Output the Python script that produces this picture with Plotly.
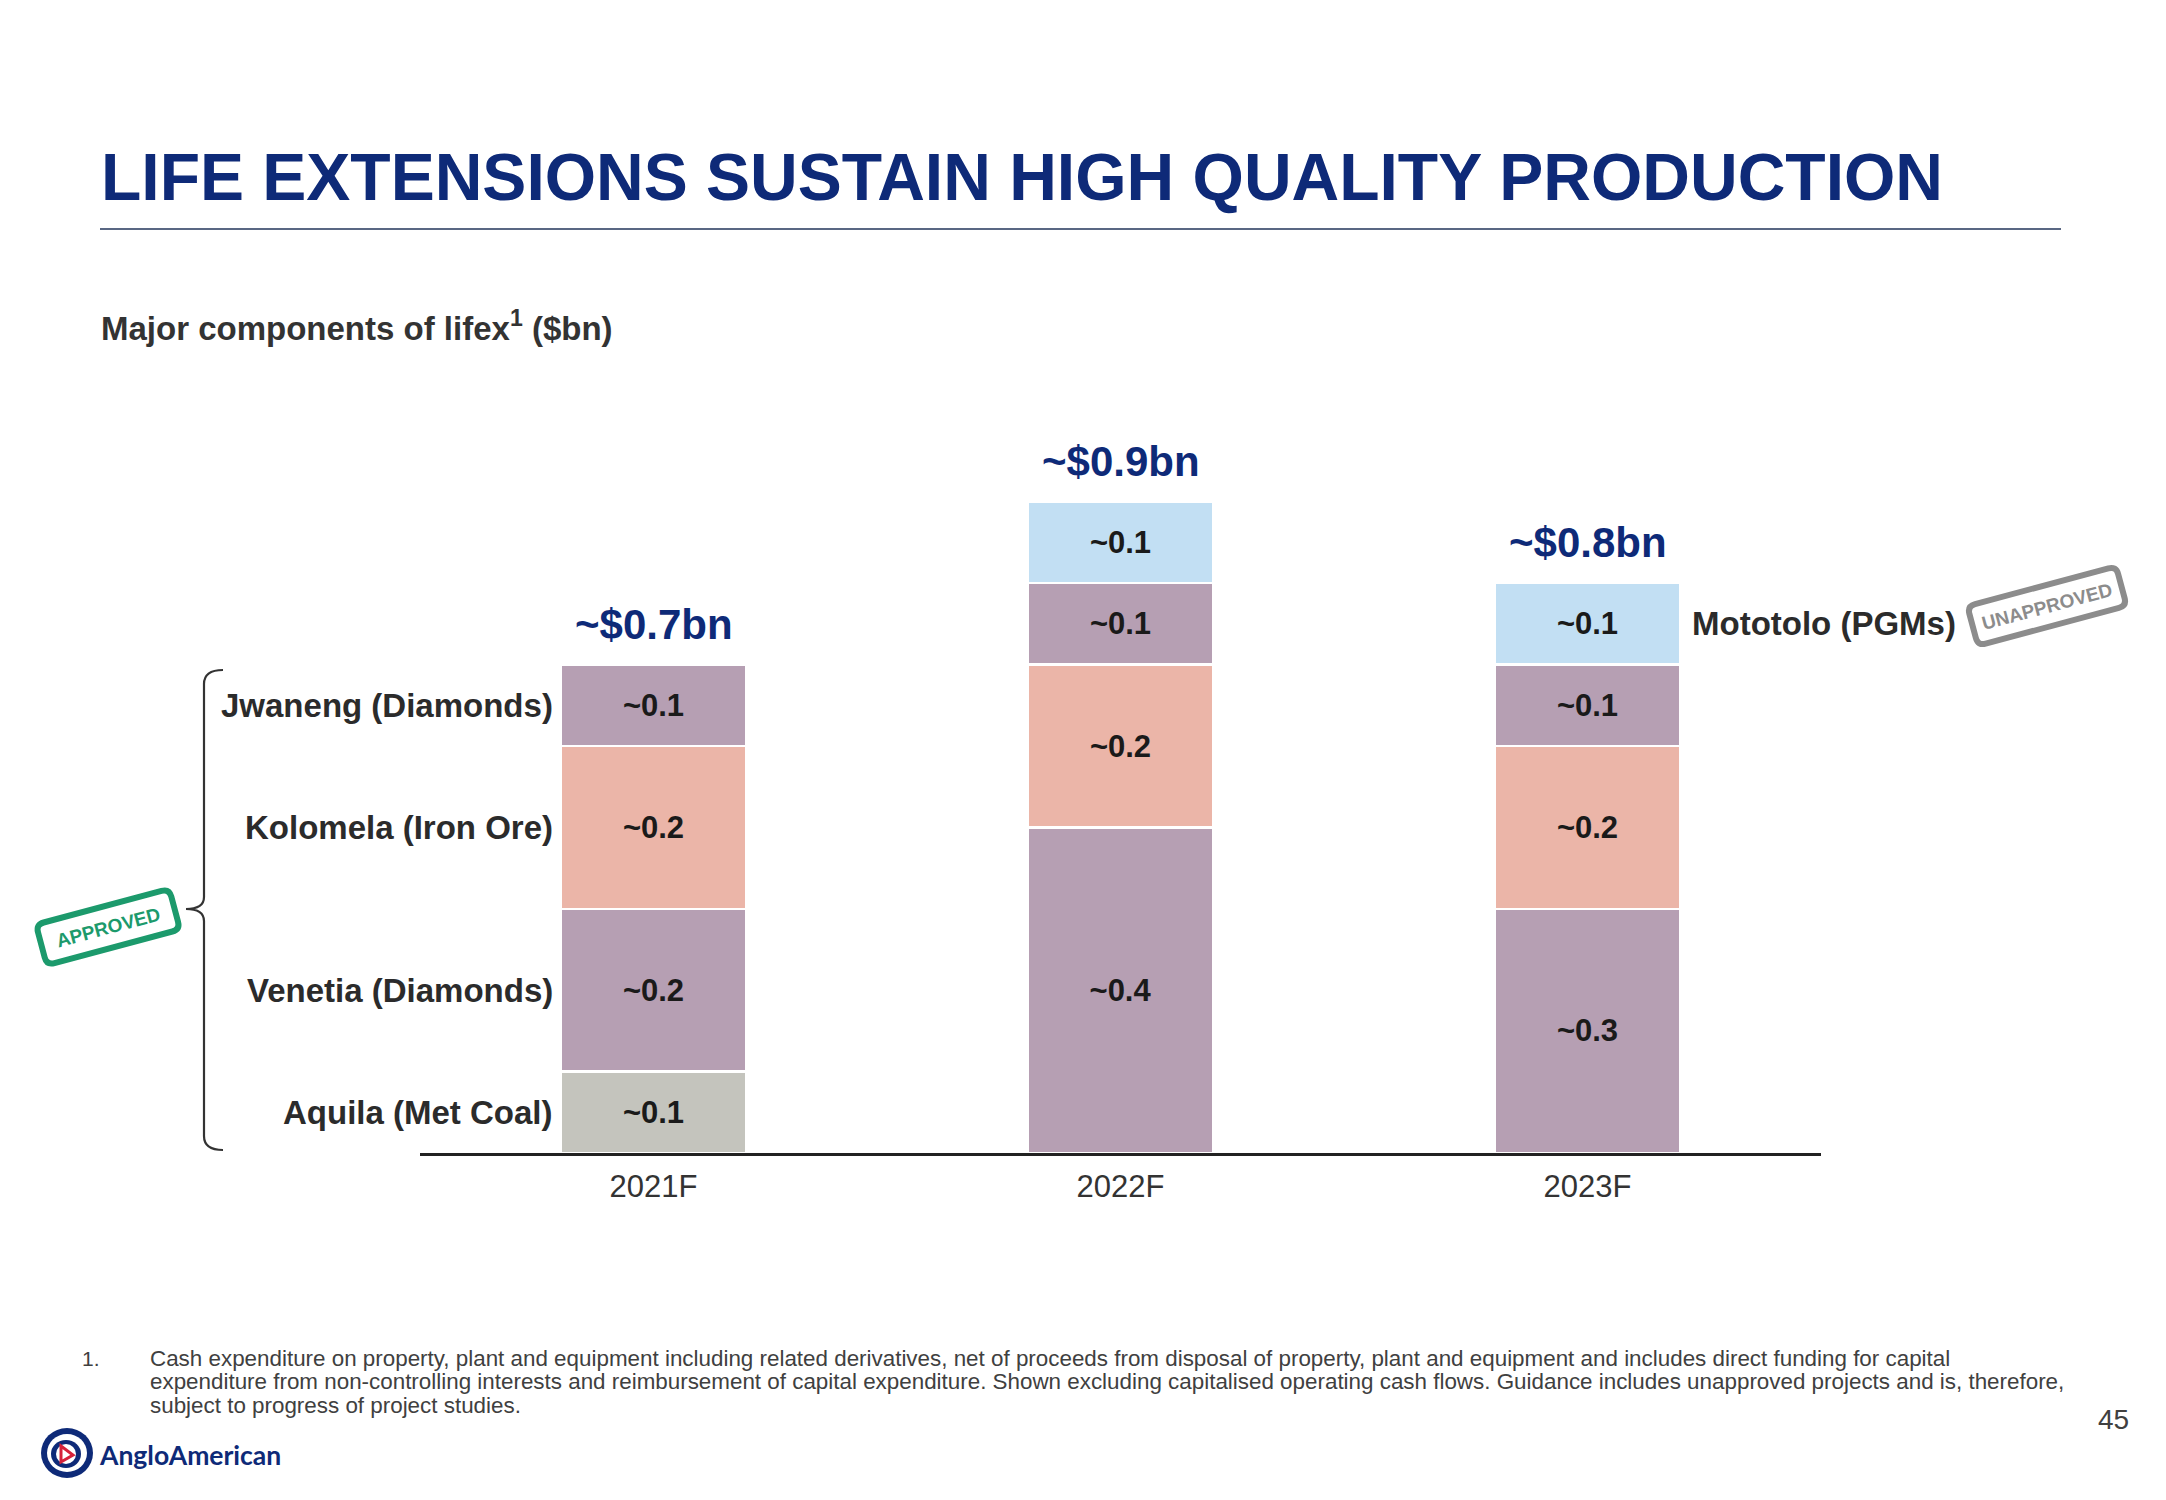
import math
import plotly.graph_objects as go

W, H = 2166, 1500

# ---------------- data ----------------
years = ["2021F", "2022F", "2023F"]
total_labels = ["~$0.7bn", "~$0.9bn", "~$0.8bn"]

aquila = [0.1, 0.0, 0.0]
venetia = [0.2, 0.4, 0.3]
kolomela = [0.2, 0.2, 0.2]
jwaneng = [0.1, 0.1, 0.1]
mototolo = [0.0, 0.1, 0.1]

series_names = ["Aquila (Met Coal)", "Venetia (Diamonds)", "Kolomela (Iron Ore)",
                "Jwaneng (Diamonds)", "Mototolo (PGMs)"]
series_values = [aquila, venetia, kolomela, jwaneng, mototolo]
series_colors = ["#C4C4BD", "#B69FB3", "#EBB5A8", "#B69FB3", "#C2DFF3"]

title_text = "LIFE EXTENSIONS SUSTAIN HIGH QUALITY PRODUCTION"
subtitle_text = "Major components of lifex<sup>1</sup> ($bn)"
footnote_lines = [
    "Cash expenditure on property, plant and equipment including related derivatives, net of proceeds from disposal of property, plant and equipment and includes direct funding for capital",
    "expenditure from non-controlling interests and reimbursement of capital expenditure. Shown excluding capitalised operating cash flows. Guidance includes unapproved projects and is, therefore,",
    "subject to progress of project studies.",
]

FONT = "Liberation Sans, Arial, sans-serif"
NAVY = "#0E2A78"
DARK = "#2B2B2B"


def px(x):
    return x / W


def py(y):
    return 1 - y / H


fig = go.Figure()

for name, vals, col in zip(series_names, series_values, series_colors):
    xs = [yr for yr, v in zip(years, vals) if v > 0]
    ys = [v for v in vals if v > 0]
    fig.add_trace(go.Bar(
        x=xs, y=ys, name=name,
        width=0.397,
        marker=dict(color=col, line=dict(color="white", width=2.5)),
        text=[f"~{v:.1f}" for v in ys],
        textposition="inside", insidetextanchor="middle", textangle=0,
        constraintext="none",
        textfont=dict(family=FONT, size=31, color="#1A1A1A", weight=700),
        hoverinfo="skip",
    ))

annotations = []
shapes = []

# totals above bars
totals = [sum(v[i] for v in series_values) for i in range(len(years))]
for yr, tot, lab in zip(years, totals, total_labels):
    annotations.append(dict(x=yr, y=tot, xref="x", yref="y", text=f"<b>{lab}</b>",
                            showarrow=False, yanchor="bottom", xanchor="center", yshift=15,
                            font=dict(family=FONT, size=42, color=NAVY)))

# segment names left of first bar
base = 0.0
for name, vals in zip(series_names, series_values):
    if vals[0] > 0:
        annotations.append(dict(x=px(555), xref="paper", y=base + vals[0] / 2, yref="y",
                                text=f"<b>{name}</b>", showarrow=False, xanchor="right",
                                yanchor="middle",
                                font=dict(family=FONT, size=33, color=DARK)))
    base += vals[0]

# Mototolo label right of last bar
base_last = sum(v[-1] for v in series_values[:-1])
annotations.append(dict(x=px(1690), xref="paper", y=base_last + mototolo[-1] / 2, yref="y",
                        text=f"<b>{series_names[-1]}</b>", showarrow=False, xanchor="left",
                        yanchor="middle", font=dict(family=FONT, size=33, color=DARK)))

# title, subtitle
annotations.append(dict(x=px(99), y=py(177), xref="paper", yref="paper", text=f"<b>{title_text}</b>",
                        showarrow=False, xanchor="left", yanchor="middle",
                        font=dict(family=FONT, size=66, color=NAVY)))
annotations.append(dict(x=px(99), y=py(326), xref="paper", yref="paper", text=f"<b>{subtitle_text}</b>",
                        showarrow=False, xanchor="left", yanchor="middle",
                        font=dict(family=FONT, size=33, color="#333333")))
shapes.append(dict(type="line", xref="paper", yref="paper", x0=px(100), x1=px(2061),
                   y0=py(229), y1=py(229), line=dict(color="#22345A", width=1.5)))

# bracket
bx, top, bot, mid, tipx, hx = 204, 670, 1150, 909, 186, 223
bpath = (f"M {px(hx)},{py(top)} Q {px(bx)},{py(top)} {px(bx)},{py(top+14)} "
         f"L {px(bx)},{py(mid-12)} Q {px(bx)},{py(mid)} {px(tipx)},{py(mid)} "
         f"Q {px(bx)},{py(mid)} {px(bx)},{py(mid+12)} "
         f"L {px(bx)},{py(bot-14)} Q {px(bx)},{py(bot)} {px(hx)},{py(bot)}")
shapes.append(dict(type="path", xref="paper", yref="paper", path=bpath,
                   line=dict(color="#333333", width=2.2)))


def stamp_path(cx, cy, w, h, r, ang):
    t = math.radians(ang)
    c, s = math.cos(t), math.sin(t)

    def P(u, v):
        x = cx + u * c + v * s
        y = cy - u * s + v * c
        return f"{px(x):.5f},{py(y):.5f}"
    a, b = w / 2, h / 2
    return (f"M {P(-a + r, -b)} L {P(a - r, -b)} Q {P(a, -b)} {P(a, -b + r)} "
            f"L {P(a, b - r)} Q {P(a, b)} {P(a - r, b)} L {P(-a + r, b)} "
            f"Q {P(-a, b)} {P(-a, b - r)} L {P(-a, -b + r)} Q {P(-a, -b)} {P(-a + r, -b)} Z")


GREEN = "#1C9A6C"
GREY = "#8C8C8C"
shapes.append(dict(type="path", xref="paper", yref="paper",
                   path=stamp_path(108, 927, 138, 42, 8, 15), line=dict(color=GREEN, width=6)))
annotations.append(dict(x=px(108), y=py(927), xref="paper", yref="paper", text="<b>APPROVED</b>",
                        showarrow=False, textangle=-15, xanchor="center", yanchor="middle",
                        font=dict(family=FONT, size=19, color=GREEN)))
shapes.append(dict(type="path", xref="paper", yref="paper",
                   path=stamp_path(2047, 606, 154, 41, 8, 15), line=dict(color=GREY, width=6)))
annotations.append(dict(x=px(2047), y=py(606), xref="paper", yref="paper", text="<b>UNAPPROVED</b>",
                        showarrow=False, textangle=-15, xanchor="center", yanchor="middle",
                        font=dict(family=FONT, size=19, color=GREY)))

# footnote
annotations.append(dict(x=px(80), y=py(1358), xref="paper", yref="paper", text="1.",
                        showarrow=False, xanchor="left", yanchor="middle",
                        font=dict(family=FONT, size=21, color="#404040")))
for i, line in enumerate(footnote_lines):
    annotations.append(dict(x=px(148), y=py(1358 + 23.5 * i), xref="paper", yref="paper", text=line,
                            showarrow=False, xanchor="left", yanchor="middle",
                            font=dict(family=FONT, size=22.4, color="#404040")))

# page number
annotations.append(dict(x=px(2113), y=py(1419), xref="paper", yref="paper", text="45",
                        showarrow=False, xanchor="center", yanchor="middle",
                        font=dict(family=FONT, size=28, color="#404040")))


# logo
def ell(cx, cy, rx, ry, fill, line_col=None, lw=0):
    return dict(type="circle", xref="paper", yref="paper", x0=px(cx - rx), x1=px(cx + rx),
                y0=py(cy + ry), y1=py(cy - ry), fillcolor=fill,
                line=dict(color=line_col or fill, width=lw))


shapes.append(ell(67, 1453, 26, 25, NAVY))
shapes.append(ell(67, 1453, 20, 19, "white"))
shapes.append(ell(66, 1454, 15, 14, NAVY))
shapes.append(ell(66, 1454, 10, 10, "white"))
shapes.append(dict(type="path", xref="paper", yref="paper",
                   path=f"M {px(61)},{py(1446)} L {px(73)},{py(1455)} L {px(61)},{py(1462)} Z",
                   fillcolor="white", line=dict(color="#D6223A", width=3)))
annotations.append(dict(x=px(97), y=py(1455), xref="paper", yref="paper", text="<b>AngloAmerican</b>",
                        showarrow=False, xanchor="left", yanchor="middle",
                        font=dict(family="Lato, " + FONT, size=26.5, color=NAVY)))

ybot = 1153
scale = 814
fig.update_layout(
    width=W, height=H, margin=dict(l=0, r=0, t=0, b=0),
    paper_bgcolor="white", plot_bgcolor="white",
    barmode="stack", bargap=0.6, showlegend=False,
    xaxis=dict(domain=[px(420), px(1821)], type="category", categoryorder="array",
               categoryarray=years, range=[-0.5, 2.5], showline=True, linecolor="#222222",
               linewidth=2.5, ticks="", showgrid=False, zeroline=False, ticklabelstandoff=4,
               tickfont=dict(family=FONT, size=31, color="#333333")),
    yaxis=dict(domain=[py(ybot), py(ybot - scale)], range=[0, 1.0], visible=False,
               showgrid=False, zeroline=False),
    annotations=annotations, shapes=shapes,
)

fig.write_html("out.html", config={"displayModeBar": False},
               post_script="document.body.style.margin='0px';document.body.style.overflow='hidden';")
